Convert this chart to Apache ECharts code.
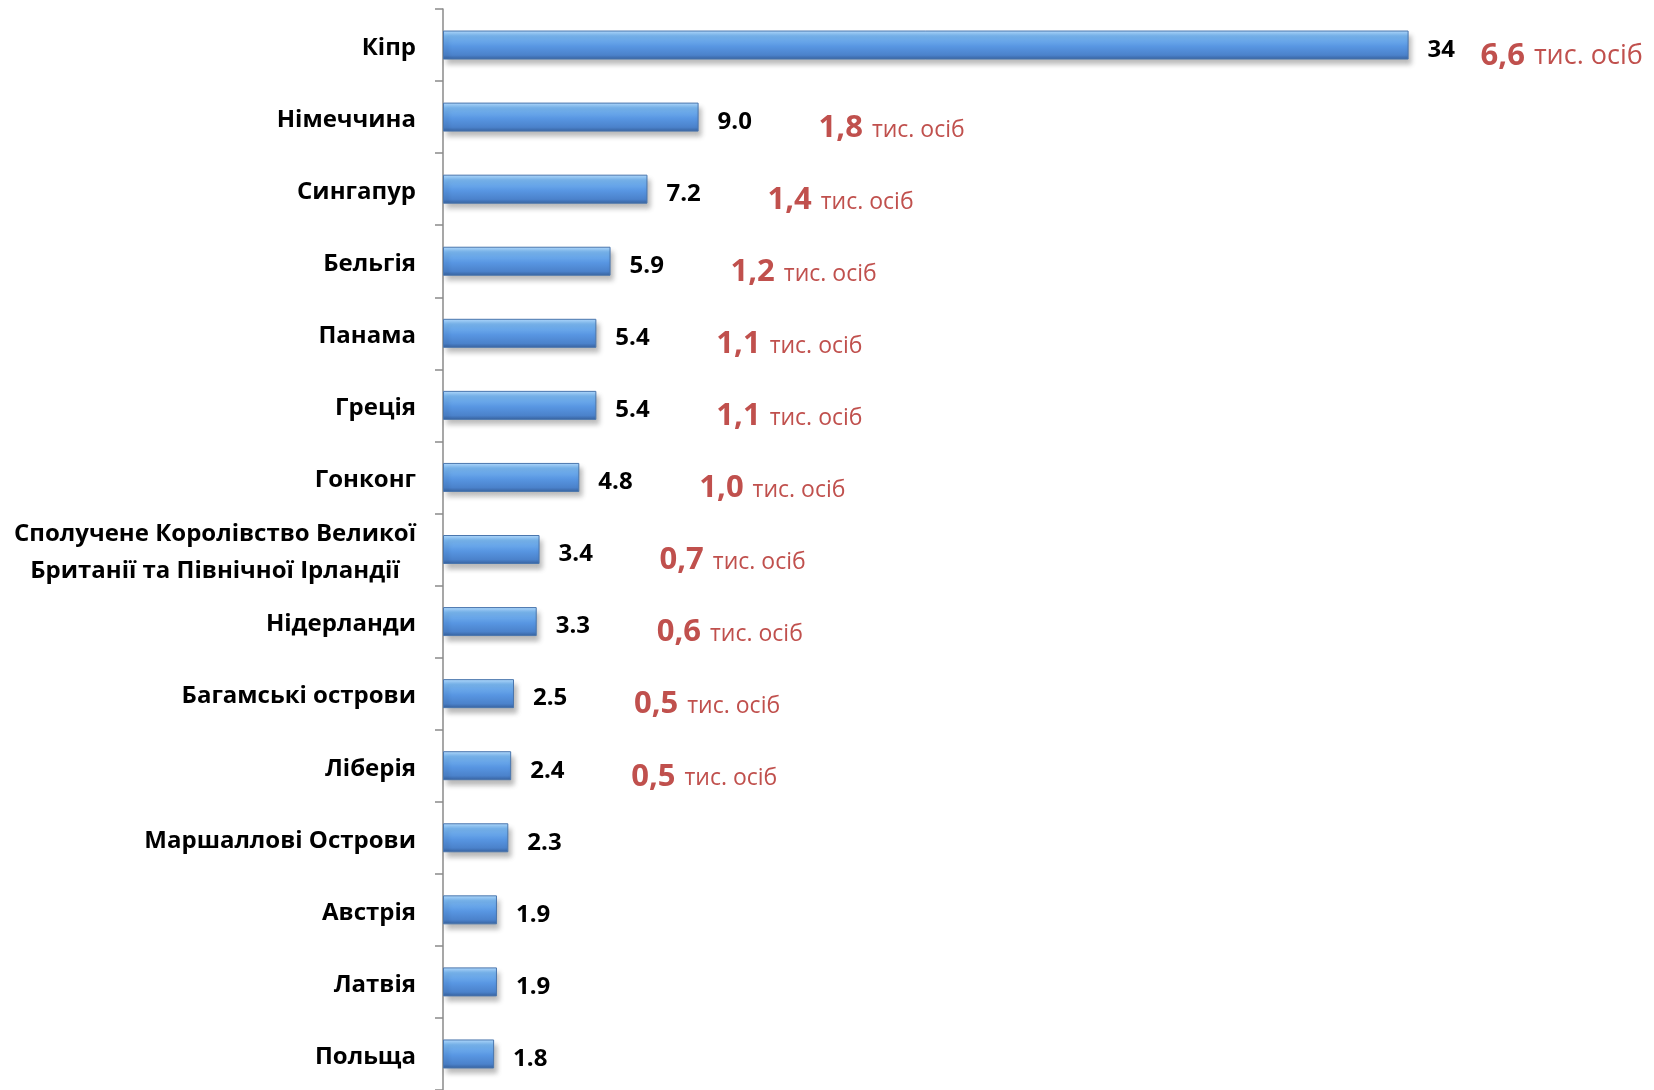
<!DOCTYPE html>
<html>
<head>
<meta charset="utf-8">
<script src="https://cdn.jsdelivr.net/npm/echarts@6/dist/echarts.min.js"></script>
<style>
html,body{margin:0;padding:0;background:#fff;}
#c{width:1654px;height:1090px;}
</style>
</head>
<body>
<div id="c"></div>
<script>
const categories = [
  'Кіпр', 'Німеччина', 'Сингапур', 'Бельгія', 'Панама', 'Греція', 'Гонконг',
  'Сполучене Королівство Великої\nБританії та Північної Ірландії',
  'Нідерланди', 'Багамські острови', 'Ліберія', 'Маршаллові Острови',
  'Австрія', 'Латвія', 'Польща'
];
const values = [34, 9.0, 7.2, 5.9, 5.4, 5.4, 4.8, 3.4, 3.3, 2.5, 2.4, 2.3, 1.9, 1.9, 1.8];
const valueLabels = ['34', '9.0', '7.2', '5.9', '5.4', '5.4', '4.8', '3.4', '3.3', '2.5', '2.4', '2.3', '1.9', '1.9', '1.8'];
const peopleThousands = ['6,6', '1,8', '1,4', '1,2', '1,1', '1,1', '1,0', '0,7', '0,6', '0,5', '0,5', null, null, null, null];
const peopleUnit = 'тис. осіб';

const FONT = '"Open Sans", "Noto Sans", sans-serif';
const RED = '#c0504d';

const cv = document.createElement('canvas').getContext('2d');
cv.font = 'bold 24px ' + FONT;
function lineW(s){ return Math.ceil(cv.measureText(s).width); }

const maxVal = Math.max(...values);

const redRich = (unitSize) => ({
  a: { fontFamily: FONT, fontWeight: 'bold', fontSize: 31, color: RED, verticalAlign: 'bottom' },
  b: { fontFamily: FONT, fontSize: unitSize, color: RED, verticalAlign: 'bottom', padding: [0, 0, 2, 9] }
});

const chart = echarts.init(document.getElementById('c'));
chart.setOption({
  animation: false,
  backgroundColor: '#fff',
  grid: { left: 443, top: 9, height: 1085, right: 75, containLabel: false },
  xAxis: { type: 'value', min: 0, max: 40, show: false },
  yAxis: {
    type: 'category',
    inverse: true,
    data: categories,
    axisLine: { show: true, lineStyle: { color: '#8a8a8a', width: 1.5 } },
    axisTick: { show: true, length: 8, lineStyle: { color: '#8a8a8a', width: 1.5 } },
    splitLine: { show: false },
    axisLabel: {
      margin: 27,
      padding: [6, 0, 0, 0],
      fontFamily: FONT,
      fontWeight: 'bold',
      fontSize: 24,
      color: '#000',
      formatter: function (v) {
        if (v.indexOf('\n') < 0) return v;
        const lines = v.split('\n');
        const w = Math.max(...lines.map(lineW));
        return lines.map(l => '{c' + w + '|' + l + '}').join('\n');
      },
      rich: (function(){
        const r = {};
        categories.filter(c => c.indexOf('\n') >= 0).forEach(c => {
          const w = Math.max(...c.split('\n').map(lineW));
          r['c' + w] = { width: w, align: 'center', fontFamily: FONT, fontWeight: 'bold', fontSize: 24, color: '#000', lineHeight: 37 };
        });
        return r;
      })()
    }
  },
  series: [
    {
      type: 'bar',
      barWidth: 29,
      data: values,
      itemStyle: {
        color: {
          type: 'linear', x: 0, y: 0, x2: 0, y2: 1,
          colorStops: [
            { offset: 0, color: '#b3dafc' },
            { offset: 0.18, color: '#7ab8f2' },
            { offset: 0.55, color: '#5896e2' },
            { offset: 0.85, color: '#4b82cb' },
            { offset: 1, color: '#36609c' }
          ]
        },
        borderColor: '#4a76ad',
        borderWidth: 1,
        shadowColor: 'rgba(0,0,0,0.28)',
        shadowBlur: 5,
        shadowOffsetX: 3,
        shadowOffsetY: 5
      },
      label: {
        show: true,
        position: 'right',
        distance: 19,
        offset: [0, 5],
        fontFamily: FONT,
        fontWeight: 'bold',
        fontSize: 24,
        color: '#000',
        formatter: p => valueLabels[p.dataIndex]
      }
    },
    {
      type: 'bar',
      barWidth: 29,
      barGap: '-100%',
      silent: true,
      itemStyle: { color: 'rgba(0,0,0,0)' },
      data: values.map((v, i) => ({
        value: v,
        label: v === maxVal ? { distance: 72, rich: redRich(27) } : undefined
      })),
      label: {
        show: true,
        position: 'right',
        distance: 120,
        offset: [0, 11],
        formatter: p => peopleThousands[p.dataIndex] ? '{a|' + peopleThousands[p.dataIndex] + '}{b|' + peopleUnit + '}' : '',
        rich: redRich(23)
      }
    }
  ]
});
</script>
</body>
</html>
